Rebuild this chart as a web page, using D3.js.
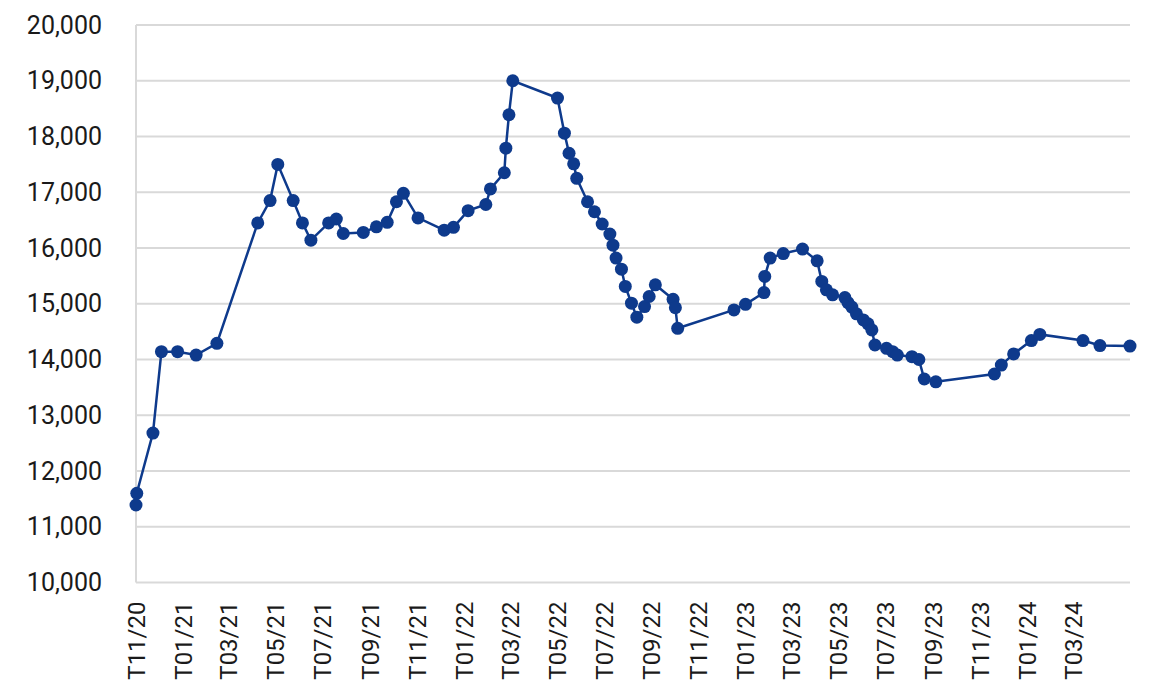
<!DOCTYPE html>
<html>
<head>
<meta charset="utf-8">
<script src="https://cdn.jsdelivr.net/npm/d3@7"></script>
<style>
  body { margin: 0; background: #fff; }
  svg text { font-family: Roboto, "Noto Sans", sans-serif; fill: #1a1a1a; }
</style>
</head>
<body>
<div id="chart"></div>
<script>
var dates = [
  "2020-11-01", "2020-11-02", "2020-11-23", "2020-12-04", "2020-12-25", "2021-01-18", "2021-02-14",
  "2021-04-08", "2021-04-24", "2021-05-04", "2021-05-24", "2021-06-05", "2021-06-16", "2021-07-09",
  "2021-07-19", "2021-07-28", "2021-08-23", "2021-09-09", "2021-09-23", "2021-10-05", "2021-10-14",
  "2021-11-02", "2021-12-06", "2021-12-18", "2022-01-06", "2022-01-29", "2022-02-04", "2022-02-22",
  "2022-02-24", "2022-02-28", "2022-03-05", "2022-05-02", "2022-05-11", "2022-05-17", "2022-05-23",
  "2022-05-27", "2022-06-10", "2022-06-19", "2022-06-29", "2022-07-09", "2022-07-13", "2022-07-17",
  "2022-07-24", "2022-07-29", "2022-08-06", "2022-08-13", "2022-08-23", "2022-08-29", "2022-09-06",
  "2022-09-29", "2022-10-02", "2022-10-05", "2022-12-17", "2023-01-01", "2023-01-25", "2023-01-26",
  "2023-02-02", "2023-02-19", "2023-03-16", "2023-04-04", "2023-04-10", "2023-04-16", "2023-04-24",
  "2023-05-10", "2023-05-14", "2023-05-19", "2023-05-25", "2023-06-03", "2023-06-09", "2023-06-14",
  "2023-06-18", "2023-07-03", "2023-07-11", "2023-07-17", "2023-08-05", "2023-08-14", "2023-08-21",
  "2023-09-05", "2023-11-20", "2023-11-29", "2023-12-15", "2024-01-07", "2024-01-18", "2024-03-14",
  "2024-04-05", "2024-05-14"
];

var values = [
  11390, 11600, 12680, 14140, 14140, 14080, 14290,
  16450, 16850, 17500, 16850, 16450, 16140, 16450,
  16520, 16260, 16280, 16380, 16460, 16830, 16980,
  16540, 16320, 16370, 16670, 16780, 17060, 17350,
  17790, 18390, 19000, 18690, 18060, 17700, 17510,
  17250, 16830, 16650, 16430, 16250, 16050, 15820,
  15620, 15310, 15010, 14760, 14950, 15130, 15340,
  15080, 14930, 14560, 14890, 14990, 15200, 15490,
  15820, 15900, 15980, 15770, 15400, 15250, 15160,
  15110, 15020, 14940, 14820, 14710, 14640, 14530,
  14260, 14200, 14140, 14080, 14050, 14000, 13650,
  13600, 13740, 13900, 14100, 14340, 14450, 14340,
  14250, 14240
];

var yTickValues = [10000, 11000, 12000, 13000, 14000, 15000, 16000, 17000, 18000, 19000, 20000];

var width = 1170, height = 696;
var margins = { top: 25, right: 40, bottom: 113.5, left: 136 };

var parse = d3.utcParse("%Y-%m-%d");
var data = dates.map(function (d, i) { return { date: parse(d), value: values[i] }; });

var svg = d3.select("#chart").append("svg")
  .attr("width", width)
  .attr("height", height);

var xScale = d3.scaleUtc()
  .domain(d3.extent(data, function (d) { return d.date; }))
  .range([margins.left, width - margins.right]);

var yScale = d3.scaleLinear()
  .domain([10000, 20000])
  .range([height - margins.bottom, margins.top]);

// horizontal grid lines
svg.append("g").attr("class", "grid")
  .selectAll("line")
  .data(yTickValues)
  .enter().append("line")
  .attr("x1", margins.left)
  .attr("x2", width - margins.right)
  .attr("y1", yScale)
  .attr("y2", yScale)
  .style("stroke", "#d9d9d9")
  .style("stroke-width", 2);

// left axis line
svg.append("line")
  .attr("x1", margins.left).attr("x2", margins.left)
  .attr("y1", margins.top).attr("y2", height - margins.bottom)
  .style("stroke", "#d9d9d9")
  .style("stroke-width", 2);

// y axis labels
var yAxis = d3.axisLeft(yScale)
  .tickValues(yTickValues)
  .tickFormat(d3.format(","))
  .tickSize(0)
  .tickPadding(34);

svg.append("g")
  .attr("class", "yAxis")
  .attr("transform", "translate(" + margins.left + ",0)")
  .call(yAxis)
  .call(function (g) { g.select(".domain").remove(); })
  .selectAll("text")
  .style("font-size", "25px")
  .style("font-family", "Roboto, sans-serif")
  .attr("fill", "#1a1a1a");

// x axis labels every two months, T11/20 .. T03/24
var xTicks = d3.utcMonth.range(new Date(Date.UTC(2020, 10, 1)), new Date(Date.UTC(2024, 3, 1)), 2);
var monthLabel = function (d) { return "T" + d3.utcFormat("%m/%y")(d); };

var xAxis = d3.axisBottom(xScale)
  .tickValues(xTicks)
  .tickFormat(monthLabel)
  .tickSize(0);

var xg = svg.append("g")
  .attr("class", "xAxis")
  .attr("transform", "translate(0," + (height - margins.bottom) + ")")
  .call(xAxis);
xg.select(".domain").remove();
xg.selectAll("text")
  .style("font-size", "24px")
  .style("font-family", "Roboto, sans-serif")
  .attr("fill", "#1a1a1a")
  .style("text-anchor", "end")
  .attr("dx", "-19px")
  .attr("dy", "0.35em")
  .attr("y", 0)
  .attr("transform", "rotate(-90)");

// series line
var line = d3.line()
  .x(function (d) { return xScale(d.date); })
  .y(function (d) { return yScale(d.value); });

svg.append("path")
  .datum(data)
  .attr("class", "series")
  .attr("d", line)
  .attr("fill", "none")
  .attr("stroke", "#0e3a8c")
  .attr("stroke-width", 2.5);

svg.append("g").attr("class", "points")
  .selectAll("circle")
  .data(data)
  .enter().append("circle")
  .attr("cx", function (d) { return xScale(d.date); })
  .attr("cy", function (d) { return yScale(d.value); })
  .attr("r", 6.5)
  .attr("fill", "#0e3a8c");
</script>
</body>
</html>
